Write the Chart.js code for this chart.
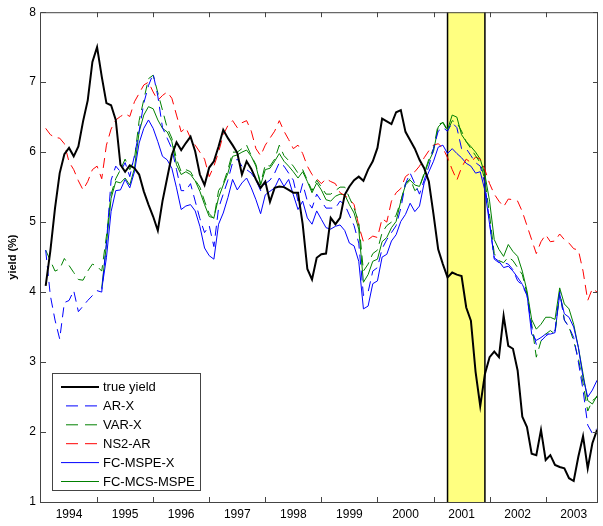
<!DOCTYPE html>
<html>
<head>
<meta charset="utf-8">
<title>yield forecasts</title>
<script src="https://cdn.jsdelivr.net/npm/chart.js@4.4.0/dist/chart.umd.min.js"></script>
<style>
  html, body { margin: 0; padding: 0; background: #fff; }
  #wrap { width: 603px; height: 526px; }
</style>
</head>
<body>
<div id="wrap"><canvas id="yieldChart" width="603" height="526"></canvas></div>
<script>
// months since Dec 1993 (1 = Jan 1994 ... 119 = Nov 2003)
const months = Array.from({ length: 119 }, (_, k) => k + 1);
const yearLabels = ['1994', '1995', '1996', '1997', '1998', '1999', '2000', '2001', '2002', '2003'];
const yearTicks = [12, 24, 36, 48, 60, 72, 84, 96, 108];
const yTicks = [1, 2, 3, 4, 5, 6, 7, 8];
const recession = [87, 95]; // Mar 2001 - Nov 2001

const trueYield = [
  4.09, 4.59, 5.20, 5.70, 5.97, 6.06, 5.94, 6.08, 6.44, 6.74, 7.29, 7.50,
  7.08, 6.70, 6.67, 6.46, 5.82, 5.72, 5.81, 5.77, 5.68, 5.44, 5.25, 5.08,
  4.88, 5.30, 5.63, 5.96, 6.14, 6.03, 6.13, 6.22, 6.01, 5.68, 5.53, 5.78,
  5.87, 6.08, 6.32, 6.20, 6.10, 5.99, 5.68, 5.87, 5.76, 5.61, 5.49, 5.58,
  5.29, 5.49, 5.51, 5.50, 5.46, 5.42, 5.42, 4.97, 4.33, 4.18, 4.49, 4.54,
  4.55, 5.06, 4.97, 5.06, 5.39, 5.51, 5.60, 5.65, 5.59, 5.75, 5.87, 6.06,
  6.48, 6.44, 6.40, 6.57, 6.60, 6.29, 6.17, 6.05, 5.89, 5.77, 5.58, 5.11,
  4.61, 4.40, 4.21, 4.28, 4.25, 4.23, 3.78, 3.59, 2.86, 2.37, 2.83, 3.07,
  3.15, 3.07, 3.66, 3.23, 3.19, 2.88, 2.22, 2.07, 1.69, 1.67, 2.03, 1.60,
  1.67, 1.53, 1.50, 1.48, 1.34, 1.30, 1.65, 1.94, 1.48, 1.84, 2.03
];

const arX = [
  4.60, 3.95, 3.60, 3.33, 3.85, 3.88, 4.02, 3.72, 3.80, 3.88, 3.95, 4.02,
  4.00, 4.70, 5.60, 5.80, 5.72, 5.85, 5.65, 5.95, 6.30, 6.70, 6.95, 7.12,
  6.80, 6.35, 6.20, 6.05, 5.75, 5.45, 5.45, 5.55, 5.30, 5.05, 4.85, 4.95,
  4.65, 5.20, 5.40, 5.60, 5.85, 5.90, 5.80, 5.75, 5.70, 5.60, 5.45, 5.55,
  5.60, 5.70, 5.85, 5.80, 5.70, 5.60, 5.30, 5.55, 5.30, 5.20, 5.40, 5.30,
  5.20, 5.20, 5.20, 5.30, 5.25, 5.10, 4.95, 4.70, 3.95, 4.00, 4.30, 4.35,
  4.62, 4.75, 4.85, 4.95, 5.20, 5.55, 5.70, 5.55, 5.40, 5.60, 5.80, 6.05,
  6.30, 6.35, 6.30, 6.42, 6.35, 6.05, 6.05, 5.95, 5.85, 5.80, 5.55, 5.00,
  4.47, 4.42, 4.42, 4.40, 4.32, 4.16, 4.10, 3.95, 3.50, 3.25, 3.30, 3.37,
  3.42, 3.45, 4.00, 3.60, 3.50, 3.35, 3.00, 2.60, 2.10, 1.98, 2.05
];

const varX = [
  4.60, 4.45, 4.30, 4.33, 4.48, 4.38, 4.28, 4.18, 4.17, 4.30, 4.40, 4.37,
  4.30, 4.80, 5.40, 5.62, 5.75, 5.90, 5.75, 5.90, 6.45, 6.75, 7.05, 7.10,
  6.85, 6.60, 6.35, 6.20, 5.90, 5.72, 5.75, 5.72, 5.60, 5.50, 5.30, 5.12,
  5.05, 5.45, 5.55, 5.75, 6.00, 6.00, 6.05, 6.10, 5.95, 5.82, 5.55, 5.82,
  5.80, 5.90, 6.10, 5.95, 5.88, 5.80, 5.70, 5.75, 5.60, 5.45, 5.60, 5.50,
  5.40, 5.40, 5.45, 5.50, 5.50, 5.35, 5.20, 5.00, 4.30, 4.40, 4.55, 4.60,
  4.85, 4.95, 5.00, 5.10, 5.30, 5.55, 5.62, 5.45, 5.50, 5.70, 5.90, 6.05,
  6.40, 6.42, 6.30, 6.45, 6.42, 6.30, 6.15, 6.05, 5.95, 5.85, 5.60, 5.10,
  4.55, 4.45, 4.42, 4.50, 4.45, 4.35, 4.25, 3.98, 3.55, 3.07, 3.30, 3.40,
  3.45, 3.40, 4.02, 3.60, 3.50, 3.30, 3.05, 2.70, 2.30, 2.45, 2.50
];

const ns2Ar = [
  6.34, 6.25, 6.21, 6.20, 6.12, 5.86, 5.75, 5.59, 5.46, 5.58, 5.75, 5.80,
  5.62, 6.10, 6.33, 6.46, 6.51, 6.55, 6.51, 6.72, 6.84, 6.96, 7.00, 6.86,
  6.74, 6.81, 6.86, 6.77, 6.53, 6.29, 6.35, 6.20, 6.10, 6.00, 5.90, 5.65,
  5.80, 6.00, 6.25, 6.38, 6.45, 6.35, 6.42, 6.45, 6.30, 6.05, 5.95, 6.10,
  6.20, 6.30, 6.45, 6.30, 6.18, 6.05, 6.10, 5.98, 5.80, 5.68, 5.62, 5.55,
  5.62, 5.58, 5.55, 5.42, 5.38, 5.33, 5.25, 4.95, 4.72, 4.75, 4.80, 4.78,
  5.05, 5.00, 5.30, 5.42, 5.48, 5.65, 5.70, 5.72, 5.80, 5.92, 6.02, 6.10,
  6.12, 6.06, 5.92, 5.75, 5.60, 5.78, 5.90, 5.85, 5.93, 5.90, 5.75, 5.55,
  5.40, 5.30, 5.22, 5.33, 5.32, 5.30, 5.15, 4.95, 4.75, 4.55, 4.72, 4.82,
  4.72, 4.73, 4.83, 4.75, 4.70, 4.62, 4.60, 4.30, 3.88, 4.05, 4.00
];

// forecast combinations start after the first year
const fcMspeX = [
  null, null, null, null, null, null, null, null, null, null, null, null,
  4.04, 4.49, 5.15, 5.45, 5.46, 5.61, 5.49, 5.72, 6.13, 6.34, 6.46, 6.34,
  6.15, 5.94, 5.89, 5.77, 5.49, 5.18, 5.23, 5.25, 5.16, 4.94, 4.63, 4.52,
  4.47, 4.97, 5.13, 5.35, 5.61, 5.46, 5.56, 5.63, 5.49, 5.32, 5.12, 5.39,
  5.44, 5.49, 5.63, 5.51, 5.61, 5.39, 5.18, 5.30, 5.06, 4.97, 5.16, 5.04,
  4.92, 4.90, 4.94, 4.96, 4.88, 4.70, 4.66, 4.44, 3.76, 3.80, 4.12, 4.16,
  4.50, 4.54, 4.73, 4.82, 5.01, 5.11, 5.27, 5.15, 5.23, 5.56, 5.72, 5.87,
  6.07, 6.10, 5.98, 6.05, 5.98, 5.92, 5.84, 5.80, 5.70, 5.72, 5.45, 4.97,
  4.49, 4.44, 4.35, 4.37, 4.30, 4.21, 4.11, 3.97, 3.40, 3.31, 3.35, 3.40,
  3.40, 3.42, 3.97, 3.69, 3.64, 3.50, 3.21, 2.78, 2.50, 2.60, 2.74
];

const fcMcsMspe = [
  null, null, null, null, null, null, null, null, null, null, null, null,
  4.06, 4.68, 5.34, 5.58, 5.56, 5.63, 5.53, 5.77, 6.29, 6.53, 6.65, 6.62,
  6.46, 6.34, 6.29, 6.15, 5.82, 5.68, 5.72, 5.68, 5.59, 5.44, 5.25, 5.08,
  5.06, 5.35, 5.53, 5.70, 5.94, 5.96, 6.00, 6.03, 5.94, 5.80, 5.53, 5.75,
  5.77, 5.87, 5.98, 5.87, 5.80, 5.72, 5.63, 5.72, 5.58, 5.42, 5.56, 5.46,
  5.32, 5.30, 5.37, 5.40, 5.39, 5.25, 5.13, 4.90, 4.14, 4.25, 4.44, 4.47,
  4.72, 4.78, 4.92, 5.01, 5.30, 5.53, 5.60, 5.53, 5.51, 5.68, 5.87, 6.01,
  6.36, 6.43, 6.32, 6.53, 6.50, 6.25, 6.15, 6.08, 6.00, 5.90, 5.68, 5.30,
  4.75, 4.61, 4.51, 4.68, 4.58, 4.51, 4.30, 4.02, 3.61, 3.47, 3.54, 3.64,
  3.64, 3.61, 4.06, 3.83, 3.76, 3.54, 3.21, 2.83, 2.45, 2.40, 2.52
];

const FONT = '"Liberation Sans", Arial, Helvetica, sans-serif';
Chart.defaults.font.family = FONT;
Chart.defaults.color = '#000';

function series(label, data, color, width, dashed) {
  return {
    label: label,
    data: data,
    borderColor: color,
    borderWidth: width,
    borderDash: dashed ? [10, 6] : [],
    pointRadius: 0,
    tension: 0,
    fill: false,
    spanGaps: false
  };
}

// yellow recession band with black edges, under the lines
const recessionBand = {
  id: 'recessionBand',
  beforeDatasetsDraw(chart) {
    const { ctx, chartArea: a, scales: { x } } = chart;
    const x0 = x.getPixelForValue(recession[0]);
    const x1 = x.getPixelForValue(recession[1]);
    ctx.save();
    ctx.fillStyle = '#ffff80';
    ctx.fillRect(x0, a.top, x1 - x0, a.bottom - a.top);
    ctx.strokeStyle = '#000';
    ctx.lineWidth = 1.5;
    ctx.beginPath();
    ctx.moveTo(x0, a.top); ctx.lineTo(x0, a.bottom);
    ctx.moveTo(x1, a.top); ctx.lineTo(x1, a.bottom);
    ctx.stroke();
    ctx.restore();
  }
};

// axes box with inward tick marks on all four sides
const axesBox = {
  id: 'axesBox',
  afterDatasetsDraw(chart) {
    const { ctx, chartArea: a, scales: { x, y } } = chart;
    const len = 5;
    ctx.save();
    ctx.strokeStyle = '#444';
    ctx.lineWidth = 1;
    ctx.strokeRect(a.left - 0.5, a.top + 0.5, a.right - a.left, a.bottom - a.top);
    ctx.beginPath();
    yTicks.forEach(v => {
      const py = Math.round(y.getPixelForValue(v)) + 0.5;
      ctx.moveTo(a.left, py); ctx.lineTo(a.left + len, py);
      ctx.moveTo(a.right, py); ctx.lineTo(a.right - len, py);
    });
    yearTicks.forEach(v => {
      const px = Math.round(x.getPixelForValue(v)) + 0.5;
      ctx.moveTo(px, a.bottom); ctx.lineTo(px, a.bottom - len);
      ctx.moveTo(px, a.top); ctx.lineTo(px, a.top + len);
    });
    ctx.stroke();
    ctx.restore();
  }
};

// boxed legend in the lower left corner
const boxLegend = {
  id: 'boxLegend',
  afterDraw(chart) {
    const { ctx } = chart;
    const left = 52.5, top = 373.5, w = 148, h = 117;
    ctx.save();
    ctx.fillStyle = '#fff';
    ctx.fillRect(left, top, w, h);
    ctx.strokeStyle = '#444';
    ctx.lineWidth = 1;
    ctx.strokeRect(left, top, w, h);
    ctx.font = '13px ' + FONT;
    ctx.textBaseline = 'middle';
    ctx.textAlign = 'left';
    chart.data.datasets.forEach((ds, k) => {
      const ry = top + 13.5 + k * 18.9;
      ctx.strokeStyle = ds.borderColor;
      ctx.lineWidth = ds.borderWidth;
      ctx.beginPath();
      if (ds.borderDash.length) {
        ctx.setLineDash([12, 7]);
        ctx.moveTo(66, ry); ctx.lineTo(99, ry);
      } else {
        ctx.setLineDash([]);
        ctx.moveTo(61, ry); ctx.lineTo(99, ry);
      }
      ctx.stroke();
      ctx.setLineDash([]);
      ctx.fillStyle = '#000';
      ctx.fillText(ds.label, 103, ry + 0.5);
    });
    ctx.restore();
  }
};

new Chart(document.getElementById('yieldChart'), {
  type: 'line',
  data: {
    labels: months,
    datasets: [
      series('true yield', trueYield, '#000000', 2, false),
      series('AR-X', arX, '#0000ff', 1, true),
      series('VAR-X', varX, '#008000', 1, true),
      series('NS2-AR', ns2Ar, '#ff0000', 1, true),
      series('FC-MSPE-X', fcMspeX, '#0000ff', 1, false),
      series('FC-MCS-MSPE', fcMcsMspe, '#008000', 1, false)
    ]
  },
  options: {
    responsive: false,
    animation: false,
    events: [],
    layout: { padding: { top: 10, right: 5, left: 0, bottom: 0 } },
    plugins: {
      legend: { display: false },
      tooltip: { enabled: false }
    },
    scales: {
      x: {
        type: 'linear',
        min: 0,
        max: 119.2,
        grid: { display: false, drawTicks: false },
        border: { display: false },
        afterBuildTicks: scale => {
          scale.ticks = yearLabels.map((_, k) => ({ value: 6 + 12 * k }));
        },
        afterFit: scale => { scale.height = 24; },
        ticks: {
          autoSkip: false,
          maxRotation: 0,
          padding: 5,
          font: { size: 12 },
          callback: (value, index) => yearLabels[index]
        }
      },
      y: {
        min: 1,
        max: 8,
        grid: { display: false, drawTicks: false },
        border: { display: false },
        afterFit: scale => { scale.width = 41; },
        ticks: { stepSize: 1, padding: 5, font: { size: 12 } },
        title: {
          display: true,
          text: 'yield (%)',
          font: { size: 11, weight: 'bold' },
          padding: { top: 6, bottom: 0 }
        }
      }
    }
  },
  plugins: [recessionBand, axesBox, boxLegend]
});
</script>
</body>
</html>
